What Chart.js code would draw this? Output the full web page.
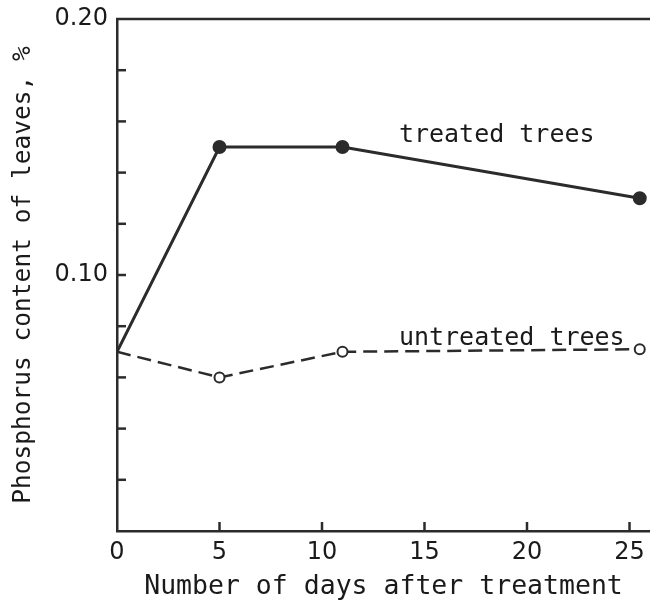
<!DOCTYPE html>
<html>
<head>
<meta charset="utf-8">
<script src="https://cdn.jsdelivr.net/npm/chart.js@4/dist/chart.umd.min.js"></script>
<style>
  html, body { margin: 0; padding: 0; background: #fff; overflow: hidden; }
  #wrap { position: relative; width: 650px; height: 606px; }
  canvas { display: block; }
</style>
</head>
<body>
<div id="wrap"><canvas id="chart"></canvas></div>
<script>
const days = [0, 5, 11, 25.5];
const treated = [0.07, 0.15, 0.15, 0.13];
const untreated = [0.07, 0.06, 0.07, 0.071];
const yLabelTicks = [0.1, 0.2];

const ink = '#2b2b2b';
const monoFont = '"DejaVu Sans Mono", monospace';
const sansFont = '"DejaVu Sans", sans-serif';

// inward tick marks, top frame line and the curve labels
const frameAndLabels = {
  id: 'frameAndLabels',
  afterDraw(chart, args, opts) {
    const { ctx, chartArea: { left, right, top, bottom } } = chart;
    const xs = chart.scales.x, ys = chart.scales.y;
    ctx.save();
    ctx.strokeStyle = ink;
    ctx.lineWidth = 2.5;
    ctx.beginPath();
    ctx.moveTo(left - 1, top);
    ctx.lineTo(right, top);
    ctx.stroke();
    xs.ticks.forEach((t) => {
      const px = xs.getPixelForValue(t.value);
      if (px <= left + 1) return;
      ctx.beginPath();
      ctx.moveTo(px, bottom);
      ctx.lineTo(px, bottom - 9);
      ctx.stroke();
    });
    ys.ticks.forEach((t) => {
      const py = ys.getPixelForValue(t.value);
      if (py >= bottom - 1 || py <= top + 1) return;
      ctx.beginPath();
      ctx.moveTo(left, py);
      ctx.lineTo(left + 9, py);
      ctx.stroke();
    });
    ctx.fillStyle = '#1a1a1a';
    ctx.font = '25px ' + monoFont;
    ctx.textBaseline = 'alphabetic';
    ctx.textAlign = 'left';
    opts.labels.forEach((l) => {
      ctx.fillText(l.text, xs.getPixelForValue(l.x), ys.getPixelForValue(l.y));
    });
    ctx.restore();
  },
};

new Chart(document.getElementById('chart'), {
  type: 'line',
  data: {
    datasets: [
      {
        label: 'treated trees',
        data: days.map((d, i) => ({ x: d, y: treated[i] })),
        borderColor: ink,
        borderWidth: 3,
        backgroundColor: ink,
        pointBackgroundColor: ink,
        pointBorderColor: ink,
        pointRadius: (c) => (c.dataIndex === 0 ? 0 : 5.5),
        tension: 0,
      },
      {
        label: 'untreated trees',
        data: days.map((d, i) => ({ x: d, y: untreated[i] })),
        borderColor: ink,
        borderWidth: 2.5,
        borderDash: [14, 7],
        pointBackgroundColor: '#fff',
        pointBorderColor: ink,
        pointBorderWidth: 2,
        pointRadius: (c) => (c.dataIndex === 0 ? 0 : 5),
        tension: 0,
      },
    ],
  },
  options: {
    responsive: true,
    maintainAspectRatio: false,
    animation: false,
    layout: { autoPadding: false, padding: { left: 0, top: 19, right: 0, bottom: 0 } },
    scales: {
      x: {
        type: 'linear',
        min: 0,
        max: 26,
        grid: { display: false, drawTicks: false },
        border: { color: ink, width: 2.5 },
        ticks: {
          stepSize: 5,
          includeBounds: false,
          padding: 7,
          color: '#1a1a1a',
          font: { size: 24, family: sansFont },
          maxRotation: 0,
        },
        title: {
          display: true,
          text: 'Number of days after treatment',
          color: '#1a1a1a',
          font: { size: 26.5, family: monoFont },
          padding: { top: 3, bottom: 3 },
        },
        afterFit: (scale) => {
          scale.height = 75;
          scale.paddingLeft = 0;
          scale.paddingRight = 0;
        },
      },
      y: {
        min: 0,
        max: 0.2,
        grid: { display: false, drawTicks: false },
        border: { color: ink, width: 2.5 },
        ticks: {
          stepSize: 0.02,
          padding: 9,
          color: '#1a1a1a',
          font: { size: 24, family: sansFont },
          callback: (v) =>
            yLabelTicks.some((t) => Math.abs(t - v) < 1e-9) ? v.toFixed(2) : '',
        },
        title: {
          display: true,
          text: 'Phosphorus content of leaves, %',
          color: '#1a1a1a',
          font: { size: 24.5, family: monoFont },
          padding: { top: 9, bottom: 6 },
        },
        afterFit: (scale) => {
          scale.width = 117;
          scale.paddingTop = 0;
          scale.paddingBottom = 0;
        },
      },
    },
    plugins: {
      legend: { display: false },
      tooltip: { enabled: false },
      frameAndLabels: {
        labels: [
          { text: 'treated trees', x: 13.75, y: 0.152 },
          { text: 'untreated trees', x: 13.75, y: 0.0727 },
        ],
      },
    },
  },
  plugins: [frameAndLabels],
});
</script>
</body>
</html>
